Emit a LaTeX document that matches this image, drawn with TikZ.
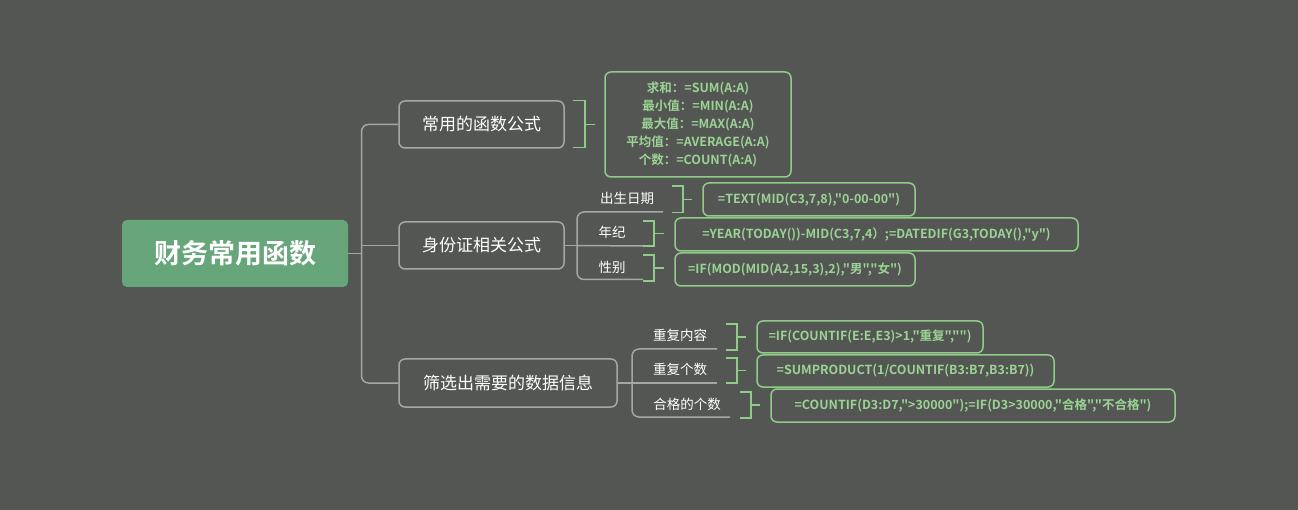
\documentclass[tikz,border=0pt]{standalone}
\usepackage{fontspec}
\setmainfont{Noto Sans CJK SC}
\newfontfamily\cjkb{Noto Sans CJK SC Bold}
\usetikzlibrary{positioning}
\definecolor{bgc}{HTML}{545653}
\definecolor{rootc}{HTML}{67A57A}
\definecolor{linec}{HTML}{A6A6A6}
\definecolor{grn}{HTML}{8FCC88}
\definecolor{grntxt}{HTML}{9AD394}
\tikzset{
  rootbox/.style={fill=rootc, rounded corners=5pt, inner sep=0pt, text=white,
    font=\cjkb\fontsize{27}{32}\selectfont},
  mainbox/.style={draw=linec, line width=1.5pt, rounded corners=6pt, inner sep=0pt,
    text=white, font=\fontsize{17}{20}\selectfont},
  sublabel/.style={inner sep=0pt, text=white, font=\fontsize{13.5}{16}\selectfont},
  leafbox/.style={draw=grn, line width=1.5pt, rounded corners=6pt, inner sep=0pt,
    text=grntxt, font=\cjkb\fontsize{12.5}{15}\selectfont},
  tree/.style={draw=linec, line width=1.5pt, rounded corners=7pt},
  brk/.style={draw=grn, line width=1.5pt},
}
\begin{document}
\begin{tikzpicture}[x=1pt,y=-1pt]
\useasboundingbox[fill=bgc] (0,0) rectangle (1298,510);

% root
\node[rootbox, minimum width=226pt, minimum height=67pt] (root) at (235,253.5) {财务常用函数};

% main topics
\node[mainbox, minimum width=165pt, minimum height=47pt] (m1) at (481.5,124.5) {常用的函数公式};
\node[mainbox, minimum width=165pt, minimum height=47pt] (m2) at (481.5,245.5) {身份证相关公式};
\node[mainbox, minimum width=218pt, minimum height=48pt] (m3) at (508,383) {筛选出需要的数据信息};

% root connectors
\coordinate (rj) at (361.5,253.5);
\draw[tree] (root.east) -- (rj);
\draw[tree] (rj) |- (m1.west);
\draw[tree] (rj) |- (m3.west);
\draw[tree] (rj |- m2.west) -- (m2.west);

% summary for m1
\node[leafbox, minimum width=186pt, minimum height=105pt, align=center,
  font=\cjkb\fontsize{12.5}{18}\selectfont] (s1) at (698,124.5)
  {求和：=SUM(A:A)\\最小值：=MIN(A:A)\\最大值：=MAX(A:A)\\平均值：=AVERAGE(A:A)\\个数：=COUNT(A:A)};
\draw[brk] (573,100.5) -- (585,100.5) -- (585,147.5) -- (573,147.5);
\coordinate (b1) at (585,124.5);
\draw[brk, shorten >=9pt] (b1) -- (s1.west);

% m2 children
\node[sublabel] (l1) at (627,198) {出生日期};
\node[sublabel] (l2) at (612,232) {年纪};
\node[sublabel] (l3) at (612,267) {性别};
\coordinate (j2) at (577,245.5);
\coordinate (u1) at (663,212);
\coordinate (u2) at (643,246);
\coordinate (u3) at (643,279.5);
\draw[tree, rounded corners=0pt] (m2.east) -- (j2);
\draw[tree] (j2) |- (u1);
\draw[tree] (j2) |- (u3);
\draw[tree, rounded corners=0pt] (j2) -- (u2);

\node[leafbox, minimum width=212pt, minimum height=33pt] (f1) at (809,199.5) {=TEXT(MID(C3,7,8),"0-00-00")};
\node[leafbox, minimum width=403pt, minimum height=33pt] (f2) at (876.5,234.5) {=YEAR(TODAY())-MID(C3,7,4）;=DATEDIF(G3,TODAY(),"y")};
\node[leafbox, minimum width=240pt, minimum height=33pt] (f3) at (795,269.5) {=IF(MOD(MID(A2,15,3),2),"男","女")};

\draw[brk] (672,186) -- (683,186) -- (683,212.5) -- (672,212.5);
\coordinate (c1) at (683,199.5);
\draw[brk, shorten >=10pt] (c1) -- (f1.west);
\draw[brk] (643,221) -- (654,221) -- (654,246) -- (643,246);
\coordinate (c2) at (654,233.5);
\draw[brk, shorten >=10pt] (c2) -- (c2 -| f2.west);
\draw[brk] (643,255) -- (654,255) -- (654,281) -- (643,281);
\coordinate (c3) at (654,268);
\draw[brk, shorten >=10pt] (c3) -- (c3 -| f3.west);

% m3 children
\node[sublabel] (k1) at (680,335) {重复内容};
\node[sublabel] (k2) at (680,369) {重复个数};
\node[sublabel] (k3) at (687,404) {合格的个数};
\coordinate (j3) at (632,383);
\coordinate (v1) at (717,349);
\coordinate (v2) at (717,383);
\coordinate (v3) at (730,417);
\draw[tree, rounded corners=0pt] (m3.east) -- (j3);
\draw[tree] (j3) |- (v1);
\draw[tree] (j3) |- (v3);
\draw[tree, rounded corners=0pt] (j3) -- (v2);

\node[leafbox, minimum width=226pt, minimum height=32pt] (g1) at (870,337) {=IF(COUNTIF(E:E,E3)>1,"重复","")};
\node[leafbox, minimum width=297pt, minimum height=32pt] (g2) at (905.5,371) {=SUMPRODUCT(1/COUNTIF(B3:B7,B3:B7))};
\node[leafbox, minimum width=404pt, minimum height=33pt] (g3) at (973,405.5) {=COUNTIF(D3:D7,">30000");=IF(D3>30000,"合格","不合格")};

\draw[brk] (726,324) -- (737,324) -- (737,350) -- (726,350);
\coordinate (d1) at (737,337);
\draw[brk, shorten >=10pt] (d1) -- (d1 -| g1.west);
\draw[brk] (726,358) -- (737,358) -- (737,383) -- (726,383);
\coordinate (d2) at (737,370.5);
\draw[brk, shorten >=10pt] (d2) -- (d2 -| g2.west);
\draw[brk] (740,392) -- (751,392) -- (751,418) -- (740,418);
\coordinate (d3) at (751,405);
\draw[brk, shorten >=10pt] (d3) -- (d3 -| g3.west);
\end{tikzpicture}
\end{document}
